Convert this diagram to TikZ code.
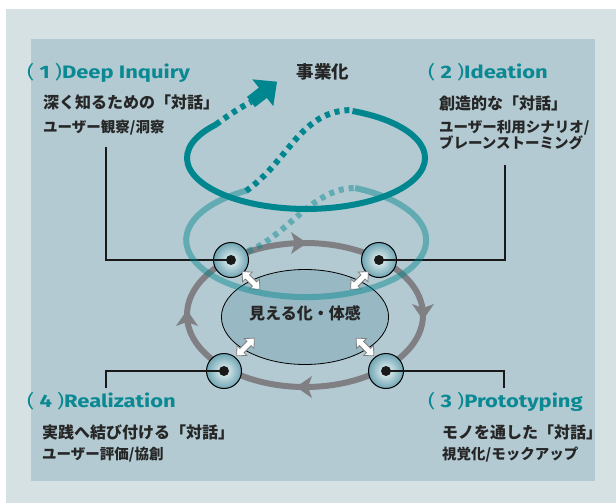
\documentclass[tikz,border=0pt]{standalone}
\usepackage{fontspec}
\newfontfamily\jp{Noto Sans CJK JP}
\newfontfamily\lat{Fira Sans}[FakeStretch=1.22]
\usetikzlibrary{shapes.geometric}
\definecolor{outerbg}{HTML}{D6E1E4}
\definecolor{panel}{HTML}{B3CAD2}
\definecolor{tealtext}{HTML}{0A8993}
\definecolor{tealdark}{HTML}{00868F}
\definecolor{grayring}{HTML}{808084}
\definecolor{centerfill}{HTML}{98B8C3}
\definecolor{hubin}{HTML}{EEF6F7}
\definecolor{hubout}{HTML}{6FA5B3}
\begin{document}
\begin{tikzpicture}[x=1pt,y=-1pt,
  head/.style={font=\lat\bfseries\fontsize{18}{21}\selectfont, text=tealtext, inner sep=0pt, anchor=base west},
  subone/.style={font=\jp\bfseries\fontsize{16}{18}\selectfont, text=black!85, inner sep=0pt, anchor=west},
  subtwo/.style={font=\jp\bfseries\fontsize{14.5}{16}\selectfont, text=black!85, inner sep=0pt, anchor=west},
  hub/.style={circle, minimum size=35pt, inner sep=0pt, draw=black, line width=1pt, inner color=hubin, outer color=hubout},
  conn/.style={draw=black!90, line width=2pt},
  ring/.style={line width=6pt},
  dotline/.style={line width=6pt, dash pattern=on 5pt off 5pt},
  warrow/.style={draw=black!50, fill=white, line width=0.8pt, line join=miter},
]
\useasboundingbox (0,0) rectangle (616,503);
\fill[white] (0,0) rectangle (616,503);
\fill[outerbg] (6,9) rectangle (616,503);
\fill[panel] (31,39) rectangle (595,481);

% gray cycle ring
\draw[grayring, ring] (305,315) ellipse [x radius=118, y radius=72];
\fill[grayring] (307,243) -- (291,232) -- (295,243) -- (291,254) -- cycle;
\fill[grayring] (423,320) -- (412,304) -- (423,308) -- (434,304) -- cycle;
\fill[grayring] (296,387) -- (312,376) -- (308,387) -- (312,398) -- cycle;
\fill[grayring] (187,310) -- (176,326) -- (187,322) -- (198,326) -- cycle;

% central ellipse
\node[ellipse, draw=black, line width=0.8pt, fill=centerfill, minimum width=156pt, minimum height=95pt,
      font=\jp\bfseries\fontsize{16}{18}\selectfont, text=black!85, text height=4pt, text depth=0pt] (c) at (305,317) {見える化・体感};

% hubs
\node[hub] (n1) at (231,260) {};
\node[hub] (n2) at (379,260) {};
\node[hub] (n3) at (386,371) {};
\node[hub] (n4) at (224,371) {};

% connectors
\coordinate (c1) at (106,147);
\coordinate (c2) at (505,165);
\coordinate (c3) at (504,388);
\coordinate (c4) at (106,388);
\draw[conn] (c1) |- (n1.center);
\draw[conn] (c2) |- (n2.center);
\draw[conn] (c3) |- (n3.center);
\draw[conn] (c4) |- (n4.center);
\foreach \n in {n1,n2,n3,n4} \fill[black!90] (\n.center) circle (5pt);

% white double arrows between hubs and the central ellipse
\foreach \px/\py/\r in {251/280.5/-45, 359.5/280.5/45, 365/347/-45, 245.5/347/45}{
  \begin{scope}[shift={(\px,\py)}, rotate=\r]
    \draw[warrow] (-12.5,0) -- (-5,-7) -- (-5,-3) -- (5,-3) -- (5,-7) -- (12.5,0)
                  -- (5,7) -- (5,3) -- (-5,3) -- (-5,7) -- cycle;
  \end{scope}
}

% lower (light) loop
\begin{scope}[draw opacity=0.45]
\draw[tealdark, dotline] (248,251) .. controls (285,238) and (312,188) .. (355,188);
\draw[tealdark, ring] (355,188) arc[start angle=-66, end angle=240, x radius=120, y radius=57];
\end{scope}

% upper (dark) loop
\draw[tealdark, dotline] (246,191) .. controls (290,160) and (300,110) .. (353,110);
\draw[tealdark, ring] (352.5,111) arc[start angle=-67, end angle=221, x radius=119, y radius=51];
\draw[tealdark, dotline] (216,124.5) .. controls (226,117) and (239,108) .. (251,102);
\begin{scope}[shift={(251,102)}, rotate=38]
\fill[tealdark] (0,-6.5) -- (15,-6.5) -- (15,-17) -- (33,0) -- (15,17) -- (15,6.5) -- (0,6.5) -- cycle;
\end{scope}

% texts
\node[font=\jp\bfseries\fontsize{17.5}{20}\selectfont, text=black!85] (biz) at (323,72) {事業化};

\node[head] (t1) at (27,78) {{\mdseries(} 1 {\mdseries)}Deep Inquiry};
\node[subone] (t1a) at (43,102) {深く知るための「対話」};
\node[subtwo] (t1b) at (43,128) {ユーザー観察/洞察};

\node[head] (t2) at (428,78) {{\mdseries(} 2 {\mdseries)}Ideation};
\node[subone] (t2a) at (439,103) {創造的な「対話」};
\node[subtwo] (t2b) at (439,128) {ユーザー利用シナリオ/};
\node[subtwo] (t2c) at (439,142.5) {ブレーンストーミング};

\node[head] (t4) at (27,407) {{\mdseries(} 4 {\mdseries)}Realization};
\node[subone] (t4a) at (42,432) {実践へ結び付ける「対話」};
\node[subtwo] (t4b) at (42,455) {ユーザー評価/協創};

\node[head] (t3) at (428,407) {{\mdseries(} 3 {\mdseries)}Prototyping};
\node[subone] (t3a) at (442,432) {モノを通した「対話」};
\node[subtwo] (t3b) at (442,455) {視覚化/モックアップ};
\end{tikzpicture}
\end{document}
